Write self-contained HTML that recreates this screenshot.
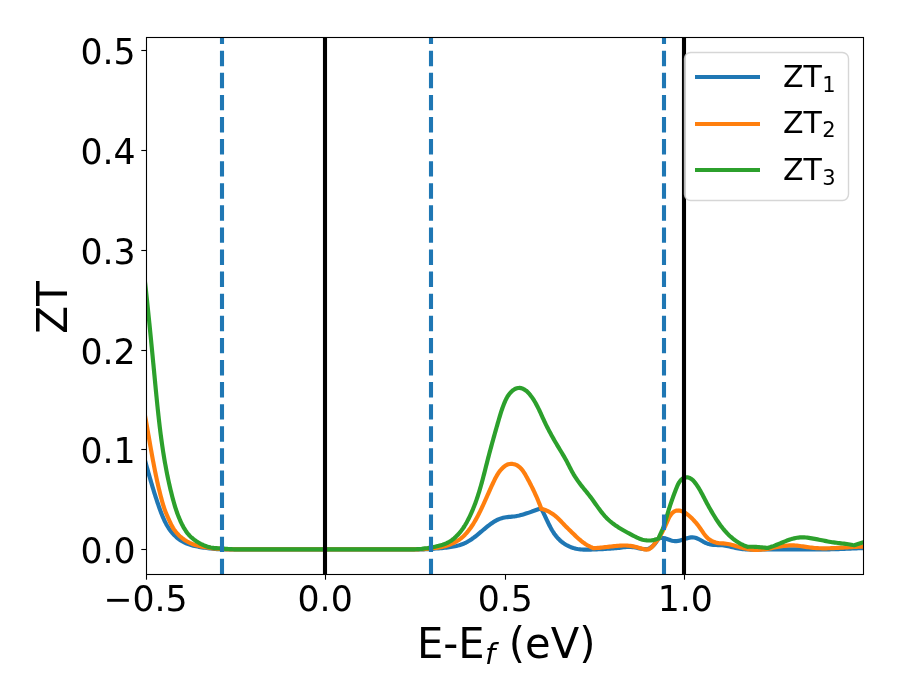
<!DOCTYPE html>
<html lang="en"><head><meta charset="utf-8"><title>ZT vs E-Ef</title>
<style>html,body{margin:0;padding:0;background:#fff;overflow:hidden}svg{display:block}text{font-family:'DejaVu Sans','Liberation Sans',sans-serif;fill:#000}</style>
</head><body>
<svg width="900" height="700" viewBox="0 0 900 700">
<rect x="0" y="0" width="900" height="700" fill="#ffffff"/>
<defs><clipPath id="axclip"><rect x="146.0" y="37.0" width="718.0" height="538.0"/></clipPath></defs>
<g clip-path="url(#axclip)" fill="none" stroke-linejoin="round">
<path d="M141.96 449.88 L142.40 451.27 L142.81 452.73 L143.22 454.18 L143.63 455.64 L144.04 457.09 L144.44 458.54 L144.85 459.99 L145.25 461.43 L145.66 462.88 L146.06 464.33 L146.46 465.77 L146.87 467.21 L147.27 468.65 L147.68 470.10 L148.08 471.53 L148.49 472.97 L148.90 474.41 L149.30 475.85 L149.72 477.28 L150.13 478.72 L150.54 480.15 L150.96 481.59 L151.38 483.02 L151.80 484.45 L152.23 485.88 L152.66 487.31 L153.09 488.74 L153.53 490.17 L153.97 491.60 L154.41 493.03 L154.86 494.45 L155.32 495.88 L155.78 497.31 L156.24 498.73 L156.71 500.16 L157.18 501.58 L157.66 503.01 L158.15 504.43 L158.64 505.86 L159.14 507.28 L159.65 508.70 L160.16 510.13 L160.68 511.54 L161.22 512.96 L161.77 514.36 L162.34 515.76 L162.92 517.15 L163.52 518.53 L164.15 519.90 L164.79 521.25 L165.47 522.58 L166.16 523.90 L166.89 525.20 L167.65 526.48 L168.43 527.74 L169.26 528.98 L170.11 530.19 L171.01 531.37 L171.94 532.53 L172.92 533.65 L173.93 534.75 L174.99 535.81 L176.09 536.83 L177.23 537.81 L178.40 538.75 L179.61 539.65 L180.85 540.49 L182.12 541.28 L183.43 542.01 L184.76 542.69 L186.13 543.30 L187.51 543.85 L188.92 544.36 L190.35 544.81 L191.79 545.23 L193.25 545.61 L194.72 545.95 L196.19 546.27 L197.67 546.57 L199.15 546.85 L200.63 547.11 L202.11 547.36 L203.59 547.59 L205.07 547.81 L206.56 548.02 L208.04 548.21 L209.53 548.39 L211.02 548.55 L212.50 548.70 L213.99 548.84 L215.48 548.97 L216.97 549.09 L218.46 549.19 L219.96 549.29 L221.45 549.35 L222.94 549.35 L224.43 549.35 L225.93 549.35 L227.42 549.35 L228.92 549.35 L230.41 549.35 L231.91 549.35 L233.41 549.35 L234.90 549.35 L236.40 549.35 L237.90 549.35 L239.40 549.35 L240.90 549.35 L242.39 549.35 L243.89 549.35 L245.39 549.35 L246.89 549.35 L248.39 549.35 L249.89 549.35 L251.39 549.35 L252.89 549.35 L254.39 549.35 L255.89 549.35 L257.39 549.35 L258.89 549.35 L260.39 549.35 L261.89 549.35 L263.39 549.35 L264.89 549.35 L266.39 549.35 L267.89 549.35 L269.39 549.35 L270.89 549.35 L272.39 549.35 L273.89 549.35 L275.39 549.35 L276.89 549.35 L278.39 549.35 L279.89 549.35 L281.39 549.35 L282.89 549.35 L284.39 549.35 L285.89 549.35 L287.39 549.35 L288.89 549.35 L290.38 549.35 L291.88 549.35 L293.38 549.35 L294.88 549.35 L296.38 549.35 L297.88 549.35 L299.38 549.35 L300.88 549.35 L302.38 549.35 L303.88 549.35 L305.37 549.35 L306.87 549.35 L308.37 549.35 L309.87 549.35 L311.37 549.35 L312.87 549.35 L314.36 549.35 L315.86 549.35 L317.36 549.35 L318.86 549.35 L320.36 549.35 L321.85 549.35 L323.35 549.35 L324.85 549.35 L326.35 549.35 L327.84 549.35 L329.34 549.35 L330.84 549.35 L332.34 549.35 L333.83 549.35 L335.33 549.35 L336.83 549.35 L338.32 549.35 L339.82 549.35 L341.32 549.35 L342.82 549.35 L344.31 549.35 L345.81 549.35 L347.31 549.35 L348.80 549.35 L350.30 549.35 L351.80 549.35 L353.30 549.35 L354.79 549.35 L356.29 549.35 L357.79 549.35 L359.29 549.35 L360.78 549.35 L362.28 549.35 L363.78 549.35 L365.28 549.35 L366.77 549.35 L368.27 549.35 L369.77 549.35 L371.27 549.35 L372.76 549.35 L374.26 549.35 L375.76 549.35 L377.26 549.35 L378.76 549.35 L380.25 549.35 L381.75 549.35 L383.25 549.35 L384.75 549.35 L386.25 549.35 L387.75 549.35 L389.25 549.35 L390.74 549.35 L392.24 549.35 L393.74 549.35 L395.24 549.35 L396.74 549.35 L398.24 549.35 L399.74 549.35 L401.24 549.35 L402.74 549.35 L404.24 549.35 L405.74 549.35 L407.24 549.35 L408.74 549.35 L410.24 549.35 L411.74 549.35 L413.25 549.35 L414.75 549.35 L416.25 549.35 L417.75 549.35 L419.25 549.35 L420.75 549.34 L422.26 549.34 L423.76 549.33 L425.26 549.28 L426.77 549.22 L428.27 549.14 L429.77 549.05 L431.28 548.94 L432.78 548.82 L434.28 548.68 L435.79 548.52 L437.29 548.41 L438.79 548.30 L440.30 548.19 L441.79 548.06 L443.29 547.92 L444.78 547.77 L446.26 547.60 L447.74 547.42 L449.21 547.22 L450.68 547.01 L452.14 546.78 L453.58 546.53 L455.02 546.25 L456.45 545.95 L457.87 545.60 L459.27 545.21 L460.66 544.78 L462.04 544.30 L463.41 543.76 L464.76 543.16 L466.09 542.51 L467.41 541.81 L468.71 541.06 L470.00 540.26 L471.27 539.42 L472.52 538.55 L473.76 537.65 L474.98 536.72 L476.18 535.78 L477.37 534.83 L478.54 533.87 L479.69 532.91 L480.84 531.94 L481.99 530.97 L483.13 530.01 L484.27 529.05 L485.42 528.10 L486.58 527.15 L487.75 526.21 L488.93 525.29 L490.13 524.39 L491.34 523.50 L492.57 522.66 L493.82 521.85 L495.09 521.08 L496.38 520.37 L497.70 519.72 L499.03 519.14 L500.40 518.63 L501.78 518.19 L503.19 517.83 L504.62 517.53 L506.06 517.29 L507.52 517.10 L508.98 516.94 L510.46 516.81 L511.94 516.66 L513.42 516.50 L514.91 516.31 L516.39 516.07 L517.88 515.79 L519.37 515.47 L520.85 515.10 L522.33 514.70 L523.81 514.28 L525.28 513.82 L526.75 513.35 L528.21 512.86 L529.67 512.36 L531.12 511.85 L532.57 511.33 L534.00 510.82 L535.43 510.30 L536.85 509.79 L538.26 509.26 L539.66 508.73 L541.15 508.65 L541.97 509.99 L542.67 511.33 L543.35 512.69 L544.01 514.06 L544.67 515.43 L545.32 516.80 L545.96 518.17 L546.60 519.54 L547.25 520.91 L547.89 522.26 L548.55 523.62 L549.22 524.96 L549.90 526.30 L550.60 527.62 L551.32 528.93 L552.06 530.22 L552.83 531.49 L553.62 532.74 L554.46 533.96 L555.32 535.15 L556.23 536.32 L557.17 537.45 L558.16 538.54 L559.20 539.59 L560.29 540.61 L561.43 541.58 L562.61 542.50 L563.83 543.37 L565.09 544.20 L566.38 544.97 L567.71 545.69 L569.06 546.35 L570.44 546.95 L571.84 547.49 L573.25 547.96 L574.68 548.37 L576.12 548.72 L577.57 549.00 L579.03 549.22 L580.50 549.39 L581.98 549.52 L583.46 549.60 L584.94 549.65 L586.43 549.66 L587.92 549.66 L589.42 549.63 L590.91 549.58 L592.40 549.53 L593.90 549.47 L595.39 549.41 L596.88 549.35 L598.37 549.28 L599.86 549.21 L601.34 549.13 L602.83 549.05 L604.32 548.97 L605.80 548.88 L607.29 548.79 L608.77 548.70 L610.26 548.60 L611.74 548.51 L613.22 548.40 L614.71 548.29 L616.19 548.16 L617.67 548.02 L619.16 547.85 L620.64 547.66 L622.13 547.46 L623.61 547.27 L625.09 547.10 L626.57 546.98 L628.04 546.91 L629.51 546.91 L630.97 546.97 L632.43 547.10 L633.89 547.28 L635.37 547.51 L636.85 547.79 L638.34 548.12 L639.84 548.46 L641.33 548.78 L642.82 549.03 L644.29 549.19 L645.73 549.20 L647.13 549.02 L648.50 548.65 L649.81 548.11 L651.05 547.41 L652.23 546.55 L653.32 545.55 L654.33 544.43 L655.27 543.22 L656.16 541.98 L657.03 540.74 L657.89 539.55 L658.90 538.50 L660.35 538.00 L661.82 537.88 L663.28 537.99 L664.74 538.29 L666.21 538.73 L667.67 539.25 L669.13 539.79 L670.59 540.30 L672.05 540.72 L673.51 540.98 L674.96 541.09 L676.42 541.06 L677.88 540.89 L679.34 540.61 L680.80 540.24 L682.27 539.81 L683.73 539.34 L685.20 538.85 L686.67 538.38 L688.15 537.96 L689.61 537.62 L691.07 537.41 L692.52 537.36 L693.95 537.49 L695.36 537.79 L696.75 538.24 L698.11 538.82 L699.46 539.50 L700.79 540.26 L702.11 541.03 L703.44 541.80 L704.78 542.51 L706.14 543.12 L707.53 543.65 L708.94 544.08 L710.37 544.42 L711.82 544.66 L713.29 544.83 L714.78 544.94 L716.27 545.02 L717.77 545.07 L719.27 545.12 L720.78 545.18 L722.28 545.28 L723.77 545.42 L725.25 545.63 L726.73 545.89 L728.20 546.19 L729.66 546.52 L731.12 546.87 L732.58 547.23 L734.04 547.59 L735.50 547.93 L736.96 548.24 L738.42 548.51 L739.89 548.75 L741.37 548.95 L742.85 549.12 L744.33 549.27 L745.81 549.38 L747.30 549.47 L748.79 549.54 L750.29 549.59 L751.78 549.62 L753.28 549.63 L754.77 549.63 L756.27 549.62 L757.77 549.61 L759.27 549.58 L760.78 549.55 L762.28 549.53 L763.78 549.50 L765.28 549.47 L766.78 549.45 L768.28 549.43 L769.78 549.41 L771.28 549.40 L772.77 549.39 L774.27 549.38 L775.77 549.37 L777.27 549.37 L778.76 549.36 L780.26 549.36 L781.76 549.36 L783.25 549.37 L784.75 549.37 L786.24 549.37 L787.74 549.38 L789.24 549.38 L790.73 549.39 L792.23 549.40 L793.72 549.40 L795.22 549.41 L796.71 549.42 L798.21 549.43 L799.70 549.43 L801.20 549.44 L802.69 549.45 L804.19 549.45 L805.68 549.46 L807.18 549.46 L808.67 549.47 L810.17 549.47 L811.66 549.47 L813.16 549.47 L814.66 549.47 L816.15 549.46 L817.65 549.46 L819.15 549.45 L820.64 549.44 L822.14 549.43 L823.64 549.41 L825.14 549.39 L826.63 549.37 L828.13 549.35 L829.63 549.32 L831.13 549.29 L832.62 549.26 L834.12 549.22 L835.62 549.18 L837.12 549.14 L838.61 549.09 L840.11 549.04 L841.60 548.98 L843.10 548.92 L844.60 548.86 L846.09 548.79 L847.58 548.72 L849.08 548.65 L850.57 548.58 L852.07 548.50 L853.56 548.44 L855.05 548.37 L856.55 548.31 L858.04 548.26 L859.54 548.22 L861.03 548.19 L862.53 548.16 L864.02 548.16 L865.52 548.16 L867.01 548.18 L868.51 548.22 L870.00 548.40" stroke="#1f77b4" stroke-width="4.17"/>
<path d="M142.97 405.02 L143.30 406.47 L143.58 407.94 L143.86 409.42 L144.14 410.89 L144.42 412.36 L144.69 413.84 L144.96 415.31 L145.23 416.79 L145.50 418.26 L145.77 419.74 L146.03 421.21 L146.29 422.69 L146.56 424.16 L146.82 425.64 L147.08 427.11 L147.33 428.59 L147.59 430.06 L147.85 431.54 L148.11 433.01 L148.36 434.49 L148.62 435.96 L148.88 437.44 L149.13 438.91 L149.39 440.39 L149.65 441.86 L149.90 443.34 L150.16 444.81 L150.42 446.29 L150.68 447.76 L150.94 449.24 L151.20 450.71 L151.47 452.19 L151.73 453.66 L152.00 455.13 L152.27 456.61 L152.54 458.08 L152.81 459.55 L153.09 461.02 L153.36 462.49 L153.64 463.97 L153.93 465.44 L154.21 466.91 L154.50 468.38 L154.79 469.85 L155.08 471.32 L155.38 472.79 L155.68 474.26 L155.99 475.72 L156.30 477.19 L156.61 478.66 L156.93 480.12 L157.25 481.59 L157.57 483.05 L157.91 484.52 L158.24 485.98 L158.58 487.44 L158.93 488.90 L159.28 490.35 L159.64 491.81 L160.00 493.26 L160.37 494.71 L160.75 496.16 L161.13 497.61 L161.51 499.05 L161.90 500.50 L162.29 501.93 L162.70 503.37 L163.12 504.80 L163.56 506.23 L164.02 507.66 L164.51 509.08 L165.02 510.50 L165.56 511.92 L166.13 513.33 L166.72 514.74 L167.33 516.13 L167.95 517.52 L168.57 518.90 L169.19 520.26 L169.81 521.62 L170.43 522.95 L171.07 524.28 L171.73 525.58 L172.43 526.87 L173.17 528.13 L173.97 529.38 L174.83 530.59 L175.74 531.78 L176.71 532.94 L177.73 534.06 L178.79 535.15 L179.90 536.20 L181.04 537.21 L182.21 538.17 L183.41 539.08 L184.64 539.94 L185.88 540.74 L187.15 541.49 L188.45 542.19 L189.76 542.83 L191.09 543.42 L192.44 543.97 L193.81 544.46 L195.20 544.92 L196.60 545.34 L198.02 545.73 L199.45 546.09 L200.90 546.42 L202.36 546.72 L203.82 547.00 L205.30 547.26 L206.79 547.50 L208.28 547.72 L209.78 547.93 L211.28 548.12 L212.79 548.31 L214.30 548.47 L215.81 548.63 L217.32 548.77 L218.84 548.89 L220.35 549.01 L221.86 549.10 L223.36 549.19 L224.87 549.26 L226.37 549.32 L227.87 549.35 L229.37 549.35 L230.88 549.35 L232.37 549.35 L233.87 549.35 L235.37 549.35 L236.87 549.35 L238.36 549.35 L239.86 549.35 L241.35 549.35 L242.84 549.35 L244.34 549.35 L245.83 549.35 L247.32 549.35 L248.82 549.35 L250.31 549.35 L251.80 549.35 L253.29 549.35 L254.79 549.35 L256.28 549.35 L257.77 549.35 L259.27 549.35 L260.76 549.35 L262.26 549.35 L263.75 549.35 L265.25 549.35 L266.74 549.35 L268.24 549.35 L269.74 549.35 L271.23 549.35 L272.73 549.35 L274.23 549.35 L275.72 549.35 L277.22 549.35 L278.72 549.35 L280.22 549.35 L281.72 549.35 L283.21 549.35 L284.71 549.35 L286.21 549.35 L287.71 549.35 L289.21 549.35 L290.71 549.35 L292.21 549.35 L293.70 549.35 L295.20 549.35 L296.70 549.35 L298.20 549.35 L299.70 549.35 L301.20 549.35 L302.70 549.35 L304.20 549.35 L305.70 549.35 L307.20 549.35 L308.70 549.35 L310.20 549.35 L311.70 549.35 L313.20 549.35 L314.70 549.35 L316.20 549.35 L317.70 549.35 L319.20 549.35 L320.70 549.35 L322.19 549.35 L323.69 549.35 L325.19 549.35 L326.69 549.35 L328.19 549.35 L329.69 549.35 L331.19 549.35 L332.69 549.35 L334.19 549.35 L335.68 549.35 L337.18 549.35 L338.68 549.35 L340.18 549.35 L341.68 549.35 L343.17 549.35 L344.67 549.35 L346.17 549.35 L347.67 549.35 L349.17 549.35 L350.66 549.35 L352.16 549.35 L353.66 549.35 L355.16 549.35 L356.65 549.35 L358.15 549.35 L359.65 549.35 L361.15 549.35 L362.64 549.35 L364.14 549.35 L365.64 549.35 L367.13 549.35 L368.63 549.35 L370.13 549.35 L371.63 549.35 L373.12 549.35 L374.62 549.35 L376.12 549.35 L377.61 549.35 L379.11 549.35 L380.61 549.35 L382.10 549.35 L383.60 549.35 L385.10 549.35 L386.60 549.35 L388.09 549.35 L389.59 549.35 L391.09 549.35 L392.58 549.35 L394.08 549.35 L395.58 549.35 L397.08 549.35 L398.57 549.35 L400.07 549.35 L401.57 549.35 L403.07 549.35 L404.56 549.35 L406.06 549.35 L407.56 549.35 L409.06 549.35 L410.55 549.35 L412.05 549.35 L413.55 549.35 L415.05 549.35 L416.55 549.34 L418.05 549.31 L419.54 549.27 L421.04 549.22 L422.54 549.15 L424.04 549.06 L425.54 548.94 L427.04 548.81 L428.54 548.66 L430.04 548.49 L431.54 548.31 L433.04 548.14 L434.54 547.99 L436.04 547.83 L437.54 547.66 L439.03 547.45 L440.52 547.21 L442.00 546.92 L443.47 546.58 L444.93 546.20 L446.37 545.77 L447.80 545.30 L449.20 544.80 L450.59 544.26 L451.95 543.69 L453.29 543.08 L454.60 542.43 L455.88 541.75 L457.13 541.02 L458.36 540.24 L459.55 539.43 L460.71 538.57 L461.83 537.66 L462.92 536.71 L463.97 535.72 L464.99 534.69 L465.97 533.63 L466.93 532.54 L467.86 531.44 L468.77 530.30 L469.66 529.14 L470.53 527.95 L471.37 526.74 L472.20 525.51 L473.01 524.26 L473.80 523.00 L474.57 521.72 L475.33 520.42 L476.08 519.12 L476.81 517.80 L477.53 516.47 L478.23 515.13 L478.92 513.78 L479.60 512.43 L480.28 511.07 L480.94 509.71 L481.59 508.35 L482.23 506.98 L482.87 505.61 L483.49 504.24 L484.12 502.87 L484.73 501.50 L485.35 500.13 L485.96 498.77 L486.57 497.40 L487.17 496.03 L487.78 494.67 L488.39 493.30 L488.99 491.94 L489.60 490.58 L490.22 489.21 L490.83 487.85 L491.46 486.48 L492.08 485.12 L492.72 483.75 L493.36 482.39 L494.01 481.02 L494.67 479.66 L495.35 478.30 L496.06 476.96 L496.79 475.64 L497.57 474.34 L498.38 473.06 L499.24 471.82 L500.17 470.65 L501.16 469.50 L502.20 468.39 L503.28 467.34 L504.42 466.37 L505.62 465.51 L506.90 464.82 L508.26 464.32 L509.69 464.01 L511.14 463.89 L512.60 463.95 L514.03 464.19 L515.40 464.59 L516.69 465.16 L517.91 465.86 L519.05 466.70 L520.13 467.66 L521.15 468.72 L522.12 469.86 L523.04 471.08 L523.91 472.36 L524.75 473.68 L525.55 475.04 L526.33 476.41 L527.09 477.78 L527.83 479.14 L528.55 480.50 L529.27 481.84 L529.96 483.17 L530.65 484.50 L531.32 485.82 L531.98 487.14 L532.63 488.46 L533.27 489.78 L533.90 491.10 L534.52 492.43 L535.14 493.76 L535.74 495.09 L536.34 496.44 L536.93 497.79 L537.52 499.15 L538.10 500.53 L538.67 501.93 L539.25 503.33 L539.82 504.76 L540.38 506.21 L540.95 507.68 L541.44 509.00 L542.91 509.17 L544.37 509.67 L545.79 510.22 L547.17 510.82 L548.51 511.48 L549.81 512.18 L551.08 512.93 L552.31 513.72 L553.50 514.56 L554.65 515.43 L555.77 516.33 L556.85 517.27 L557.90 518.24 L558.92 519.23 L559.92 520.24 L560.92 521.28 L561.92 522.34 L562.93 523.41 L563.96 524.49 L565.01 525.58 L566.09 526.68 L567.19 527.78 L568.30 528.88 L569.43 529.98 L570.55 531.08 L571.67 532.17 L572.78 533.25 L573.89 534.33 L574.99 535.38 L576.08 536.43 L577.18 537.45 L578.29 538.46 L579.40 539.44 L580.54 540.40 L581.69 541.33 L582.86 542.23 L584.06 543.09 L585.29 543.93 L586.55 544.72 L587.84 545.48 L589.16 546.20 L590.51 546.87 L591.90 547.50 L593.20 548.20 L594.71 548.09 L596.19 548.02 L597.67 547.93 L599.15 547.81 L600.63 547.67 L602.12 547.52 L603.61 547.36 L605.10 547.19 L606.59 547.01 L608.08 546.83 L609.58 546.65 L611.07 546.48 L612.57 546.31 L614.06 546.14 L615.55 545.99 L617.05 545.86 L618.54 545.74 L620.03 545.65 L621.53 545.57 L623.02 545.53 L624.50 545.52 L625.99 545.54 L627.47 545.61 L628.96 545.72 L630.44 545.88 L631.91 546.09 L633.39 546.36 L634.86 546.69 L636.32 547.07 L637.79 547.47 L639.26 547.90 L640.72 548.32 L642.19 548.72 L643.66 549.10 L645.14 549.41 L646.59 549.56 L648.00 549.43 L649.35 548.93 L650.61 548.11 L651.78 547.09 L652.85 545.96 L653.85 544.76 L654.80 543.53 L655.72 542.31 L656.63 541.10 L657.53 539.90 L658.39 538.69 L659.22 537.44 L660.01 536.16 L660.77 534.86 L661.49 533.54 L662.20 532.21 L662.88 530.88 L663.54 529.54 L664.19 528.20 L664.83 526.86 L665.46 525.51 L666.08 524.15 L666.69 522.79 L667.30 521.42 L667.92 520.03 L668.55 518.66 L669.23 517.31 L669.97 516.01 L670.80 514.77 L671.73 513.61 L672.78 512.55 L673.95 511.66 L675.24 510.98 L676.64 510.57 L678.13 510.46 L679.66 510.60 L681.16 510.95 L682.58 511.45 L683.93 512.08 L685.22 512.83 L686.46 513.66 L687.64 514.56 L688.80 515.51 L689.92 516.49 L691.02 517.50 L692.09 518.55 L693.13 519.61 L694.15 520.71 L695.15 521.82 L696.12 522.96 L697.07 524.12 L698.00 525.30 L698.90 526.49 L699.79 527.70 L700.66 528.93 L701.51 530.16 L702.34 531.40 L703.18 532.64 L704.03 533.87 L704.91 535.06 L705.84 536.21 L706.83 537.31 L707.89 538.34 L709.05 539.28 L710.29 540.14 L711.59 540.90 L712.96 541.56 L714.37 542.11 L715.81 542.54 L717.28 542.85 L718.76 543.07 L720.26 543.22 L721.76 543.33 L723.26 543.44 L724.75 543.56 L726.23 543.72 L727.69 543.95 L729.14 544.24 L730.58 544.58 L732.02 544.95 L733.45 545.35 L734.88 545.76 L736.32 546.18 L737.76 546.59 L739.21 547.00 L740.67 547.40 L742.12 547.79 L743.58 548.16 L745.05 548.50 L746.52 548.82 L747.99 549.10 L749.46 549.35 L750.93 549.56 L752.41 549.72 L753.88 549.83 L755.36 549.88 L756.84 549.89 L758.32 549.85 L759.80 549.77 L761.28 549.65 L762.76 549.50 L764.24 549.32 L765.73 549.11 L767.21 548.87 L768.69 548.62 L770.18 548.36 L771.66 548.09 L773.15 547.81 L774.63 547.52 L776.11 547.24 L777.60 546.96 L779.08 546.70 L780.57 546.45 L782.05 546.21 L783.54 546.00 L785.02 545.81 L786.51 545.65 L787.99 545.52 L789.48 545.43 L790.96 545.39 L792.44 545.39 L793.93 545.43 L795.41 545.52 L796.89 545.64 L798.37 545.80 L799.85 545.98 L801.34 546.19 L802.82 546.40 L804.30 546.63 L805.78 546.86 L807.27 547.08 L808.75 547.30 L810.24 547.50 L811.73 547.68 L813.22 547.84 L814.71 547.97 L816.20 548.08 L817.69 548.16 L819.18 548.23 L820.68 548.28 L822.17 548.31 L823.66 548.32 L825.16 548.32 L826.65 548.31 L828.15 548.28 L829.64 548.24 L831.14 548.19 L832.63 548.13 L834.13 548.07 L835.62 548.00 L837.12 547.92 L838.61 547.84 L840.11 547.75 L841.60 547.66 L843.09 547.57 L844.59 547.48 L846.08 547.39 L847.58 547.30 L849.07 547.21 L850.56 547.13 L852.06 547.05 L853.55 546.97 L855.05 546.90 L856.54 546.83 L858.03 546.78 L859.53 546.73 L861.02 546.69 L862.52 546.66 L864.02 546.65 L865.51 546.64 L867.01 546.65 L868.50 546.67 L870.00 546.70" stroke="#ff7f0e" stroke-width="4.17"/>
<path d="M142.92 264.50 L143.19 265.95 L143.36 267.44 L143.53 268.94 L143.71 270.43 L143.88 271.92 L144.05 273.41 L144.22 274.90 L144.39 276.39 L144.55 277.88 L144.72 279.37 L144.89 280.86 L145.05 282.35 L145.22 283.84 L145.38 285.33 L145.55 286.82 L145.71 288.31 L145.87 289.80 L146.03 291.29 L146.19 292.78 L146.35 294.27 L146.51 295.76 L146.67 297.25 L146.83 298.74 L146.99 300.23 L147.15 301.72 L147.30 303.21 L147.46 304.70 L147.62 306.19 L147.77 307.68 L147.93 309.17 L148.08 310.67 L148.23 312.16 L148.39 313.65 L148.54 315.14 L148.69 316.63 L148.84 318.12 L149.00 319.61 L149.15 321.10 L149.30 322.59 L149.45 324.08 L149.60 325.57 L149.75 327.06 L149.90 328.55 L150.04 330.04 L150.19 331.53 L150.34 333.02 L150.49 334.51 L150.64 336.00 L150.78 337.49 L150.93 338.98 L151.08 340.47 L151.22 341.96 L151.37 343.45 L151.51 344.95 L151.66 346.44 L151.80 347.93 L151.95 349.42 L152.09 350.91 L152.24 352.40 L152.38 353.89 L152.53 355.38 L152.67 356.87 L152.81 358.36 L152.96 359.86 L153.10 361.35 L153.24 362.84 L153.39 364.33 L153.53 365.82 L153.67 367.31 L153.82 368.81 L153.96 370.30 L154.10 371.79 L154.24 373.28 L154.39 374.77 L154.53 376.27 L154.67 377.76 L154.82 379.25 L154.96 380.74 L155.10 382.23 L155.24 383.73 L155.39 385.22 L155.53 386.71 L155.67 388.21 L155.82 389.70 L155.96 391.19 L156.11 392.68 L156.25 394.18 L156.40 395.67 L156.55 397.16 L156.69 398.65 L156.84 400.15 L156.99 401.64 L157.15 403.13 L157.30 404.62 L157.45 406.11 L157.61 407.61 L157.76 409.10 L157.92 410.59 L158.08 412.08 L158.24 413.57 L158.40 415.06 L158.57 416.55 L158.73 418.04 L158.90 419.53 L159.07 421.02 L159.24 422.51 L159.42 424.00 L159.59 425.49 L159.77 426.97 L159.95 428.46 L160.14 429.95 L160.32 431.44 L160.51 432.92 L160.70 434.41 L160.90 435.89 L161.09 437.38 L161.29 438.86 L161.50 440.35 L161.70 441.83 L161.91 443.32 L162.12 444.80 L162.34 446.28 L162.56 447.76 L162.78 449.24 L163.01 450.72 L163.24 452.20 L163.47 453.68 L163.71 455.16 L163.95 456.64 L164.19 458.11 L164.44 459.59 L164.69 461.06 L164.95 462.54 L165.21 464.01 L165.48 465.49 L165.75 466.96 L166.02 468.43 L166.30 469.90 L166.58 471.37 L166.87 472.84 L167.16 474.31 L167.46 475.78 L167.76 477.24 L168.07 478.71 L168.38 480.17 L168.70 481.64 L169.02 483.10 L169.35 484.56 L169.68 486.02 L170.02 487.48 L170.36 488.94 L170.71 490.40 L171.07 491.86 L171.43 493.31 L171.80 494.77 L172.17 496.22 L172.55 497.67 L172.93 499.12 L173.32 500.57 L173.73 502.02 L174.14 503.46 L174.56 504.90 L174.99 506.34 L175.44 507.77 L175.90 509.20 L176.37 510.62 L176.86 512.04 L177.36 513.45 L177.88 514.86 L178.42 516.26 L178.98 517.65 L179.56 519.03 L180.15 520.41 L180.77 521.78 L181.42 523.14 L182.08 524.49 L182.77 525.82 L183.49 527.15 L184.23 528.45 L185.02 529.73 L185.84 530.98 L186.70 532.20 L187.60 533.38 L188.55 534.52 L189.56 535.62 L190.61 536.68 L191.73 537.70 L192.89 538.69 L194.11 539.64 L195.37 540.55 L196.66 541.43 L197.99 542.27 L199.34 543.06 L200.72 543.81 L202.11 544.51 L203.52 545.16 L204.93 545.75 L206.36 546.27 L207.80 546.74 L209.24 547.13 L210.69 547.46 L212.15 547.71 L213.61 547.91 L215.08 548.05 L216.56 548.16 L218.04 548.26 L219.52 548.35 L221.00 548.45 L222.49 548.56 L223.98 548.67 L225.48 548.80 L226.97 548.92 L228.47 549.03 L229.96 549.13 L231.46 549.20 L232.96 549.27 L234.46 549.31 L235.95 549.34 L237.45 549.35 L238.95 549.35 L240.45 549.35 L241.95 549.35 L243.44 549.35 L244.94 549.35 L246.44 549.35 L247.94 549.35 L249.44 549.35 L250.94 549.35 L252.43 549.35 L253.93 549.35 L255.43 549.35 L256.93 549.35 L258.43 549.35 L259.93 549.35 L261.43 549.35 L262.92 549.35 L264.42 549.35 L265.92 549.35 L267.42 549.35 L268.92 549.35 L270.42 549.35 L271.92 549.35 L273.41 549.35 L274.91 549.35 L276.41 549.35 L277.91 549.35 L279.41 549.35 L280.91 549.35 L282.41 549.35 L283.90 549.35 L285.40 549.35 L286.90 549.35 L288.40 549.35 L289.90 549.35 L291.40 549.35 L292.89 549.35 L294.39 549.35 L295.89 549.35 L297.39 549.35 L298.89 549.35 L300.39 549.35 L301.89 549.35 L303.38 549.35 L304.88 549.35 L306.38 549.35 L307.88 549.35 L309.38 549.35 L310.88 549.35 L312.38 549.35 L313.87 549.35 L315.37 549.35 L316.87 549.35 L318.37 549.35 L319.87 549.35 L321.37 549.35 L322.87 549.35 L324.36 549.35 L325.86 549.35 L327.36 549.35 L328.86 549.35 L330.36 549.35 L331.86 549.35 L333.35 549.35 L334.85 549.35 L336.35 549.35 L337.85 549.35 L339.35 549.35 L340.85 549.35 L342.35 549.35 L343.84 549.35 L345.34 549.35 L346.84 549.35 L348.34 549.35 L349.84 549.35 L351.34 549.35 L352.84 549.35 L354.34 549.35 L355.83 549.35 L357.33 549.35 L358.83 549.35 L360.33 549.35 L361.83 549.35 L363.33 549.35 L364.83 549.35 L366.32 549.35 L367.82 549.35 L369.32 549.35 L370.82 549.35 L372.32 549.35 L373.82 549.35 L375.32 549.35 L376.82 549.35 L378.31 549.35 L379.81 549.35 L381.31 549.35 L382.81 549.35 L384.31 549.35 L385.81 549.35 L387.31 549.35 L388.81 549.35 L390.30 549.35 L391.80 549.35 L393.30 549.35 L394.80 549.35 L396.30 549.35 L397.79 549.35 L399.29 549.35 L400.79 549.35 L402.29 549.35 L403.78 549.35 L405.28 549.35 L406.78 549.35 L408.27 549.35 L409.77 549.35 L411.27 549.35 L412.76 549.35 L414.26 549.32 L415.75 549.27 L417.25 549.20 L418.74 549.10 L420.24 548.97 L421.73 548.81 L423.23 548.61 L424.72 548.42 L426.21 548.25 L427.71 548.07 L429.20 547.85 L430.69 547.61 L432.18 547.33 L433.67 547.02 L435.16 546.69 L436.65 546.33 L438.14 545.97 L439.62 545.58 L441.08 545.17 L442.53 544.73 L443.95 544.25 L445.35 543.72 L446.72 543.14 L448.06 542.50 L449.35 541.79 L450.61 541.01 L451.82 540.17 L452.99 539.28 L454.12 538.35 L455.22 537.38 L456.27 536.37 L457.30 535.34 L458.29 534.28 L459.25 533.20 L460.17 532.10 L461.07 530.98 L461.94 529.84 L462.79 528.67 L463.60 527.47 L464.39 526.25 L465.16 525.00 L465.90 523.73 L466.64 522.44 L467.35 521.13 L468.05 519.81 L468.72 518.48 L469.39 517.14 L470.04 515.79 L470.67 514.44 L471.28 513.08 L471.89 511.71 L472.48 510.34 L473.05 508.96 L473.61 507.58 L474.16 506.19 L474.70 504.80 L475.23 503.40 L475.74 501.99 L476.24 500.58 L476.74 499.17 L477.22 497.75 L477.69 496.33 L478.15 494.90 L478.61 493.47 L479.06 492.03 L479.49 490.59 L479.93 489.15 L480.35 487.70 L480.77 486.25 L481.18 484.80 L481.59 483.35 L481.99 481.90 L482.38 480.44 L482.77 478.98 L483.16 477.52 L483.54 476.06 L483.92 474.60 L484.30 473.14 L484.67 471.68 L485.05 470.22 L485.42 468.76 L485.79 467.30 L486.16 465.84 L486.53 464.39 L486.90 462.93 L487.27 461.48 L487.64 460.03 L488.02 458.58 L488.39 457.14 L488.77 455.69 L489.15 454.25 L489.53 452.82 L489.91 451.38 L490.29 449.95 L490.68 448.52 L491.07 447.08 L491.46 445.65 L491.85 444.22 L492.24 442.80 L492.64 441.37 L493.04 439.94 L493.43 438.51 L493.83 437.08 L494.24 435.65 L494.64 434.22 L495.04 432.78 L495.45 431.35 L495.86 429.91 L496.27 428.47 L496.68 427.02 L497.10 425.57 L497.51 424.12 L497.93 422.67 L498.35 421.21 L498.77 419.74 L499.20 418.28 L499.63 416.81 L500.07 415.34 L500.52 413.88 L500.98 412.41 L501.46 410.95 L501.95 409.50 L502.45 408.05 L502.97 406.61 L503.50 405.18 L504.06 403.77 L504.64 402.36 L505.24 400.97 L505.88 399.61 L506.56 398.27 L507.29 396.97 L508.08 395.70 L508.93 394.49 L509.86 393.31 L510.86 392.19 L511.94 391.15 L513.09 390.20 L514.30 389.38 L515.56 388.72 L516.86 388.25 L518.19 387.98 L519.54 387.93 L520.90 388.11 L522.26 388.50 L523.59 389.09 L524.88 389.83 L526.10 390.71 L527.26 391.70 L528.35 392.79 L529.39 393.95 L530.37 395.15 L531.31 396.39 L532.21 397.65 L533.07 398.92 L533.89 400.20 L534.68 401.49 L535.44 402.79 L536.18 404.10 L536.89 405.42 L537.57 406.74 L538.24 408.08 L538.90 409.42 L539.54 410.76 L540.17 412.11 L540.79 413.46 L541.40 414.81 L542.02 416.17 L542.63 417.52 L543.25 418.88 L543.87 420.23 L544.50 421.58 L545.14 422.93 L545.79 424.28 L546.45 425.62 L547.13 426.96 L547.81 428.30 L548.50 429.63 L549.19 430.96 L549.90 432.29 L550.61 433.61 L551.34 434.93 L552.06 436.25 L552.80 437.56 L553.54 438.87 L554.29 440.17 L555.04 441.48 L555.80 442.77 L556.56 444.07 L557.32 445.36 L558.09 446.65 L558.87 447.93 L559.64 449.21 L560.42 450.49 L561.19 451.76 L561.97 453.04 L562.73 454.32 L563.50 455.60 L564.25 456.89 L564.99 458.19 L565.72 459.49 L566.44 460.81 L567.14 462.13 L567.82 463.46 L568.51 464.80 L569.18 466.14 L569.86 467.48 L570.55 468.81 L571.25 470.14 L571.96 471.47 L572.69 472.78 L573.44 474.08 L574.22 475.36 L575.01 476.64 L575.83 477.90 L576.66 479.15 L577.51 480.38 L578.37 481.60 L579.26 482.81 L580.15 484.01 L581.06 485.20 L581.99 486.38 L582.92 487.54 L583.86 488.70 L584.80 489.86 L585.75 491.02 L586.69 492.17 L587.64 493.33 L588.57 494.50 L589.50 495.68 L590.41 496.86 L591.32 498.06 L592.21 499.27 L593.09 500.49 L593.96 501.72 L594.83 502.95 L595.70 504.18 L596.57 505.41 L597.44 506.64 L598.32 507.86 L599.20 509.08 L600.09 510.28 L601.00 511.48 L601.92 512.65 L602.86 513.81 L603.81 514.95 L604.79 516.07 L605.80 517.16 L606.83 518.23 L607.88 519.27 L608.97 520.27 L610.09 521.25 L611.23 522.20 L612.40 523.13 L613.59 524.03 L614.80 524.91 L616.03 525.76 L617.28 526.60 L618.54 527.42 L619.82 528.22 L621.12 529.00 L622.42 529.77 L623.73 530.52 L625.05 531.27 L626.38 532.00 L627.70 532.73 L629.04 533.44 L630.37 534.15 L631.70 534.86 L633.03 535.56 L634.36 536.26 L635.69 536.93 L637.03 537.58 L638.38 538.18 L639.74 538.74 L641.12 539.24 L642.53 539.67 L643.95 540.02 L645.41 540.28 L646.90 540.44 L648.41 540.50 L649.94 540.47 L651.46 540.34 L652.97 540.11 L654.47 539.79 L655.93 539.38 L657.35 538.87 L658.68 538.30 L659.15 536.89 L659.74 535.53 L660.36 534.16 L660.99 532.80 L661.62 531.44 L662.23 530.07 L662.82 528.70 L663.36 527.31 L663.86 525.91 L664.34 524.50 L664.78 523.08 L665.21 521.66 L665.64 520.23 L666.05 518.80 L666.47 517.36 L666.90 515.93 L667.33 514.49 L667.76 513.05 L668.20 511.61 L668.65 510.17 L669.10 508.74 L669.55 507.31 L670.01 505.88 L670.48 504.46 L670.95 503.04 L671.43 501.63 L671.91 500.23 L672.40 498.83 L672.90 497.45 L673.40 496.07 L673.91 494.69 L674.43 493.30 L674.96 491.91 L675.50 490.50 L676.05 489.08 L676.61 487.63 L677.20 486.19 L677.84 484.77 L678.54 483.39 L679.33 482.09 L680.20 480.87 L681.20 479.78 L682.31 478.83 L683.53 478.07 L684.83 477.55 L686.17 477.30 L687.53 477.35 L688.87 477.68 L690.14 478.23 L691.33 478.96 L692.43 479.84 L693.47 480.85 L694.45 481.96 L695.38 483.14 L696.28 484.36 L697.14 485.61 L697.97 486.88 L698.78 488.17 L699.57 489.48 L700.34 490.80 L701.08 492.14 L701.81 493.48 L702.53 494.83 L703.24 496.18 L703.93 497.54 L704.63 498.89 L705.32 500.24 L706.03 501.59 L706.74 502.94 L707.45 504.27 L708.18 505.61 L708.92 506.93 L709.67 508.25 L710.42 509.56 L711.18 510.86 L711.94 512.15 L712.70 513.44 L713.47 514.72 L714.25 516.00 L715.03 517.26 L715.82 518.52 L716.63 519.77 L717.44 521.02 L718.28 522.25 L719.13 523.48 L720.00 524.70 L720.89 525.90 L721.79 527.09 L722.72 528.27 L723.67 529.42 L724.65 530.56 L725.64 531.68 L726.65 532.78 L727.69 533.86 L728.74 534.91 L729.82 535.94 L730.92 536.94 L732.05 537.91 L733.20 538.86 L734.37 539.77 L735.57 540.64 L736.79 541.49 L738.04 542.29 L739.32 543.06 L740.63 543.80 L741.96 544.49 L743.32 545.14 L744.70 545.74 L746.12 546.30 L747.50 546.80 L748.95 546.76 L750.39 546.75 L751.84 546.76 L753.29 546.79 L754.73 546.84 L756.18 546.91 L757.62 547.00 L759.06 547.11 L760.51 547.23 L761.95 547.37 L763.39 547.51 L764.83 547.67 L766.26 547.83 L767.70 548.00 L769.11 547.50 L770.52 547.07 L771.91 546.60 L773.31 546.11 L774.69 545.59 L776.07 545.04 L777.44 544.49 L778.82 543.92 L780.19 543.35 L781.56 542.77 L782.94 542.20 L784.32 541.64 L785.71 541.09 L787.10 540.56 L788.50 540.05 L789.91 539.57 L791.33 539.12 L792.75 538.71 L794.19 538.34 L795.63 538.03 L797.08 537.77 L798.53 537.57 L799.99 537.44 L801.46 537.37 L802.93 537.37 L804.40 537.43 L805.87 537.54 L807.34 537.69 L808.82 537.87 L810.29 538.09 L811.75 538.32 L813.22 538.57 L814.68 538.83 L816.14 539.11 L817.60 539.39 L819.05 539.68 L820.51 539.98 L821.96 540.28 L823.42 540.57 L824.87 540.87 L826.33 541.16 L827.79 541.43 L829.25 541.70 L830.71 541.95 L832.17 542.19 L833.64 542.41 L835.10 542.61 L836.57 542.80 L838.04 542.98 L839.51 543.16 L840.99 543.33 L842.46 543.50 L843.93 543.68 L845.40 543.86 L846.87 544.05 L848.34 544.25 L849.81 544.47 L851.27 544.71 L852.74 544.98 L854.20 545.20 L858.00 544.00 L863.50 542.20 L870.00 540.10" stroke="#2ca02c" stroke-width="4.17"/>
<line x1="222.0" y1="574.2" x2="222.0" y2="30" stroke="#1f77b4" stroke-width="4.1" stroke-dasharray="15.42 6.67"/>
<line x1="431.0" y1="574.2" x2="431.0" y2="30" stroke="#1f77b4" stroke-width="4.1" stroke-dasharray="15.42 6.67"/>
<line x1="664.0" y1="574.2" x2="664.0" y2="30" stroke="#1f77b4" stroke-width="4.1" stroke-dasharray="15.42 6.67"/>
<line x1="325.0" y1="580" x2="325.0" y2="30" stroke="#000" stroke-width="4.1"/>
<line x1="684.0" y1="580" x2="684.0" y2="30" stroke="#000" stroke-width="4.1"/>
</g>
<g stroke="#000" stroke-width="1.1" fill="none">
<line x1="146.5" y1="574.5" x2="146.5" y2="579.7"/>
<line x1="325.5" y1="574.5" x2="325.5" y2="579.7"/>
<line x1="505.5" y1="574.5" x2="505.5" y2="579.7"/>
<line x1="684.5" y1="574.5" x2="684.5" y2="579.7"/>
<line x1="146.5" y1="50.5" x2="141.3" y2="50.5"/>
<line x1="146.5" y1="150.5" x2="141.3" y2="150.5"/>
<line x1="146.5" y1="250.5" x2="141.3" y2="250.5"/>
<line x1="146.5" y1="350.5" x2="141.3" y2="350.5"/>
<line x1="146.5" y1="449.5" x2="141.3" y2="449.5"/>
<line x1="146.5" y1="549.5" x2="141.3" y2="549.5"/>
<rect x="146.5" y="37.5" width="717.0" height="537.0" stroke-linejoin="miter"/>
</g>
<g font-size="34.72px">
<text x="103.3" y="611.0">−0.5</text>
<text x="297.5" y="611.0">0.0</text>
<text x="477.7" y="611.0">0.5</text>
<text x="657.7" y="611.0">1.0</text>
<text x="80.4" y="64.0">0.5</text>
<text x="80.4" y="164.0">0.4</text>
<text x="80.4" y="264.0">0.3</text>
<text x="80.4" y="364.0">0.2</text>
<text x="80.4" y="463.0">0.1</text>
<text x="80.4" y="563.0">0.0</text>
</g>
<g font-size="41.67px">
<text transform="translate(416.9 658.0) scale(1 1.02)">E-E</text>
<text x="485.0" y="664.0" font-size="29.17px" font-style="italic">f</text>
<text transform="translate(508.8 658.0) scale(1 1.02)">(eV)</text>
<text transform="translate(67.0 333.8) rotate(-90) scale(0.975 1.02)">ZT</text>
</g>
<rect x="684.5" y="52.5" width="164" height="148" rx="6.2" ry="6.2" fill="#ffffff" fill-opacity="0.8" stroke="#cccccc" stroke-opacity="0.8" stroke-width="1.39"/>
<line x1="695" y1="77.0" x2="760" y2="77.0" stroke="#1f77b4" stroke-width="4"/>
<line x1="695" y1="124.0" x2="760" y2="124.0" stroke="#ff7f0e" stroke-width="4"/>
<line x1="695" y1="170.0" x2="760" y2="170.0" stroke="#2ca02c" stroke-width="4"/>
<text font-size="30.0px"><tspan x="782.95" y="87.0">ZT</tspan><tspan x="822.2" y="91.7" font-size="21.0px">1</tspan></text>
<text font-size="30.0px"><tspan x="782.95" y="132.5">ZT</tspan><tspan x="822.2" y="137.2" font-size="21.0px">2</tspan></text>
<text font-size="30.0px"><tspan x="782.95" y="180.0">ZT</tspan><tspan x="822.2" y="184.7" font-size="21.0px">3</tspan></text>
</svg>
</body></html>
